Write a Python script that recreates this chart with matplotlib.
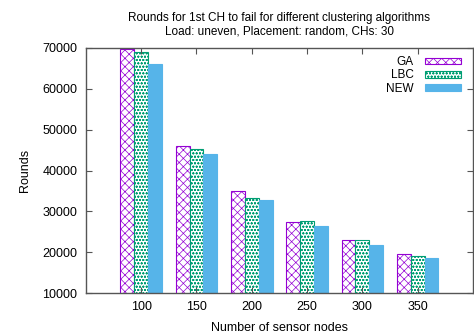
import matplotlib
matplotlib.use('Agg')
import matplotlib.pyplot as plt
import numpy as np

# data
nodes = ['100', '150', '200', '250', '300', '350']
ga = [69700, 46000, 34950, 27400, 23000, 19550]
lbc = [68950, 45250, 33200, 27600, 22900, 19050]
new = [66150, 44050, 32750, 26400, 21750, 18600]

plt.rcParams['font.family'] = ['Liberation Sans', 'DejaVu Sans']
plt.rcParams['hatch.linewidth'] = 0.5

fig = plt.figure(figsize=(4.74, 3.35), dpi=100)
ax = fig.add_axes([0.181, 0.125, 0.817, 0.732])

x = np.arange(1, len(nodes) + 1)
w = 0.25

ax.bar(x - w, ga, w, facecolor='white', edgecolor='#9400D3',
       hatch='xxxx', linewidth=0.8, label='GA')
ax.bar(x, lbc, w, facecolor='white', edgecolor='#009E73',
       hatch='ooooo', linewidth=0.8, label='LBC')
ax.bar(x + w, new, w, facecolor='#56B4E9', edgecolor='#56B4E9',
       linewidth=0.8, label='NEW')

ax.set_xlim(0, 7)
ax.set_ylim(10000, 70000)
ax.set_xticks(x)
ax.set_xticklabels(nodes)
ax.set_yticks(range(10000, 70001, 10000))

# gnuplot style: inward ticks mirrored on all sides
ax.tick_params(direction='in', top=True, right=True, length=4,
               labelsize=9, color='#555555', pad=6)
for s in ax.spines.values():
    s.set_color('#555555')
    s.set_linewidth(1.0)

ax.set_xlabel('Number of sensor nodes', fontsize=9, labelpad=6)
ax.set_ylabel('Rounds', fontsize=9, labelpad=8)
ax.set_title('Rounds for 1st CH to fail for different clustering algorithms\n'
             'Load: uneven, Placement: random, CHs: 30', fontsize=8.5,
             linespacing=1.1, pad=10)

ax.legend(loc='upper right', markerfirst=False, frameon=False, fontsize=8.5,
          handlelength=3.0, handleheight=0.5, labelspacing=0.1,
          handletextpad=1.0, borderaxespad=0.3, bbox_to_anchor=(0.99, 1.0))

fig.savefig('out.png', dpi=100)
